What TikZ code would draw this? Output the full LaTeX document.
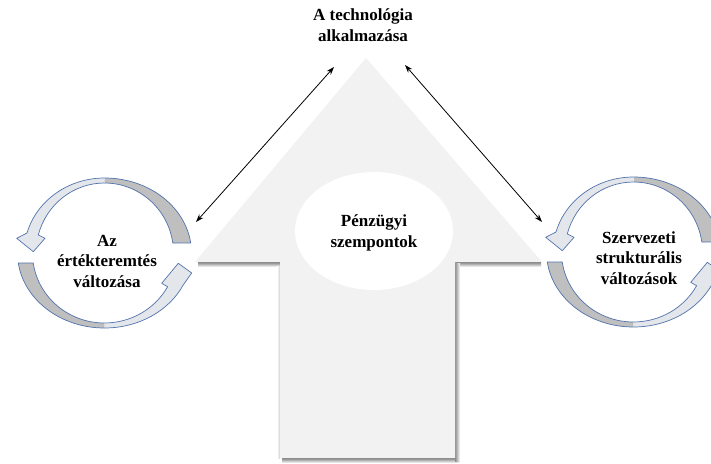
\documentclass[tikz,border=0pt]{standalone}
\usepackage{fontspec}
\setmainfont{Liberation Serif}
\usetikzlibrary{arrows.meta,shapes.geometric}
\definecolor{arrowfill}{HTML}{F2F2F2}
\definecolor{ribbonline}{HTML}{5273AC}
\definecolor{ribbondark}{HTML}{BFBFBF}
\definecolor{ribbonlight}{HTML}{E3E6EB}
\begin{document}
\begin{tikzpicture}[x=1pt,y=-1pt,
  label/.style={font=\fontsize{17}{20.5}\selectfont\bfseries, align=center, inner sep=0pt},
  ribbon/.style={draw=ribbonline, line width=0.7pt, line join=round},
  dual/.style={{Stealth[length=8pt,width=5.5pt]}-{Stealth[length=8pt,width=5.5pt]}, line width=0.8pt},
  edgeshadow/.style={draw=none},
  pics/cycle/.style={code={
    % upper ribbon: back side, then front side with its head
    % (paths left open so the twist at the top carries no outline)
    \path[ribbon, fill=ribbondark] (0,-70)
      arc[start angle=-90, end angle=-8.2, x radius=69, y radius=70]
      -- (86.2,-10.05)
      arc[start angle=-7.7, end angle=-90, x radius=87, y radius=75];
    \path[ribbon, fill=ribbonlight] (0,-75)
      arc[start angle=-90, end angle=-164.5, x radius=80.4, y radius=75]
      -- (-87.8,-14.7) -- (-71.2,-1.3) -- (-59.5,-14.7) -- (-66.2,-18.0)
      arc[start angle=-165.1, end angle=-90, x radius=68.5, y radius=70];
    % lower ribbon: back side, then front side with its head
    \path[ribbon, fill=ribbondark] (0,70)
      arc[start angle=90, end angle=171.8, x radius=72, y radius=70]
      -- (-86.2,10.05)
      arc[start angle=172.3, end angle=90, x radius=87, y radius=75];
    \path[ribbon, fill=ribbonlight] (0,75)
      arc[start angle=90, end angle=25.3, x radius=87, y radius=75]
      -- (87.2,20) -- (73.8,10.3) -- (57.2,30.3) -- (63.1,33.7)
      arc[start angle=28.8, end angle=90, x radius=72, y radius=70];
  }}]
\useasboundingbox (0,0) rectangle (711,463);
\fill[white] (0,0) rectangle (711,463);
\clip (0,0) rectangle (711,463);

% soft shadow along the lower and right edges of the big arrow
\shade[edgeshadow, top color=black!50, bottom color=white] (198,262) rectangle (281,267);
\shade[edgeshadow, top color=black!50, bottom color=white] (455,262) rectangle (541,267);
\shade[edgeshadow, top color=black!50, bottom color=white] (282,458) rectangle (459,463);
\shade[edgeshadow, left color=black!45, right color=white] (455,263) rectangle (460,461);
\shade[edgeshadow, right color=black!20, left color=white] (277,266) rectangle (280,458);

% big upward arrow
\path[fill=arrowfill] (366,58) -- (542,262) -- (455,262) -- (455,458)
  -- (280,458) -- (280,262) -- (195,262) -- cycle;

% central ellipse
\node[ellipse, fill=white, minimum width=158pt, minimum height=118pt, inner sep=0pt] (core) at (374,231) {};
\node[label] (finance) at (374,233) {Pénzügyi\\szempontok};

% cycles of curved arrows
\pic (leftcycle) at (104.5,253) {cycle};
\pic (rightcycle) at (633.5,252) {cycle};

\node[label] (tech) at (363,25) {A technológia\\alkalmazása};
\node[label] (value) at (107,261) {Az\\értékteremtés\\változása};
\node[label] (struct) at (639,258) {Szervezeti\\strukturális\\változások};

% two-way links to the top
\coordinate (la) at (196,222);
\coordinate (lb) at (334,67);
\coordinate (ra) at (405,65);
\coordinate (rb) at (542,222);
\draw[dual] (la) -- (lb);
\draw[dual] (ra) -- (rb);
\end{tikzpicture}
\end{document}
